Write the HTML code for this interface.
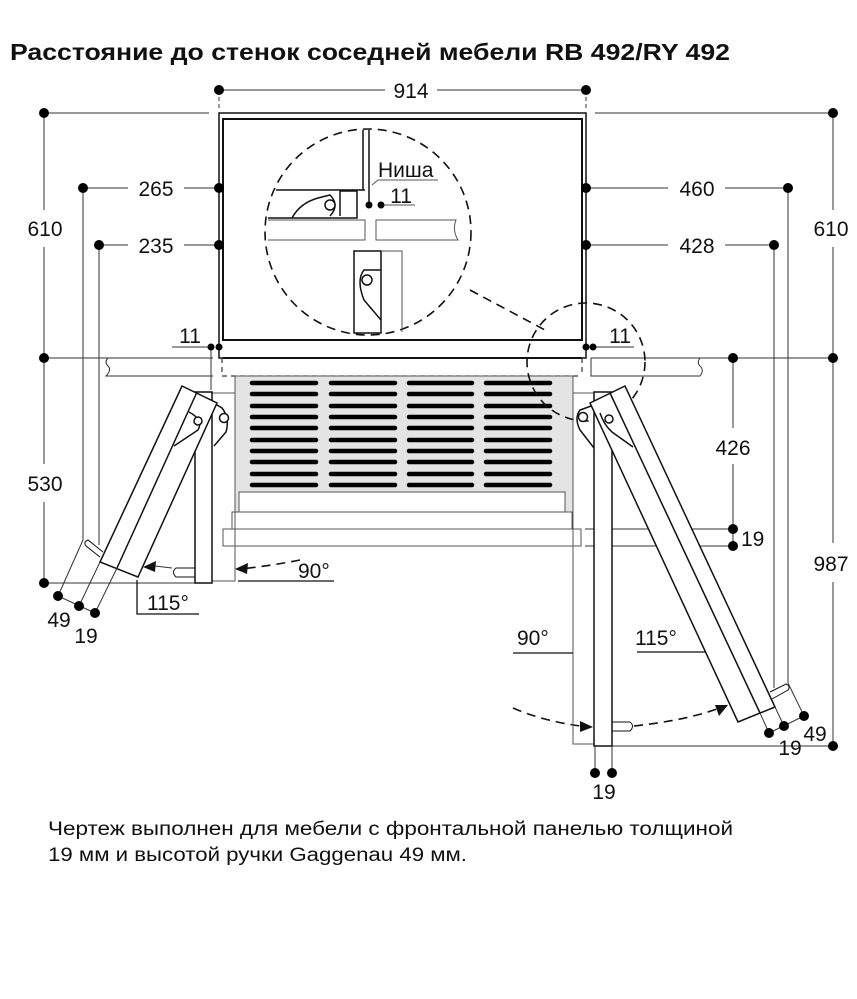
<!DOCTYPE html>
<html><head><meta charset="utf-8"><style>
body{margin:0;background:#fff;width:857px;height:999px;overflow:hidden}
svg{position:absolute;left:0;top:0}
text{font-family:"Liberation Sans",Arial,sans-serif;fill:#111}
</style></head><body>
<svg width="857" height="999" viewBox="0 0 857 999">
<text x="10" y="60" font-size="23" font-weight="bold" textLength="720" lengthAdjust="spacingAndGlyphs">Расстояние до стенок соседней мебели RB 492/RY 492</text>
<g stroke="#333" stroke-width="1" fill="none">
<line x1="219" y1="90" x2="385" y2="90"/><line x1="437" y1="90" x2="586" y2="90"/>
<line x1="219" y1="90" x2="219" y2="110" stroke-dasharray="4 3"/><line x1="586" y1="90" x2="586" y2="110" stroke-dasharray="4 3"/>
<line x1="44" y1="113" x2="209" y2="113"/><line x1="44" y1="113" x2="44" y2="210"/><line x1="44" y1="247" x2="44" y2="358"/>
<line x1="44" y1="358" x2="213" y2="358"/>
<line x1="44" y1="358" x2="44" y2="464"/><line x1="44" y1="502" x2="44" y2="583"/>
<line x1="44" y1="583" x2="195" y2="583"/>
<line x1="595" y1="113" x2="833" y2="113"/><line x1="833" y1="113" x2="833" y2="210"/><line x1="833" y1="247" x2="833" y2="543"/><line x1="833" y1="582" x2="833" y2="746"/>
<line x1="700" y1="358" x2="833" y2="358"/>
<line x1="612" y1="746" x2="833" y2="746"/>
<line x1="83" y1="188" x2="128" y2="188"/><line x1="184" y1="188" x2="219" y2="188"/>
<line x1="99" y1="245" x2="128" y2="245"/><line x1="184" y1="245" x2="219" y2="245"/>
<line x1="83" y1="188" x2="83" y2="540"/><line x1="99" y1="245" x2="99" y2="545"/>
<line x1="586" y1="188" x2="668" y2="188"/><line x1="725" y1="188" x2="788" y2="188"/>
<line x1="586" y1="245" x2="668" y2="245"/><line x1="725" y1="245" x2="774" y2="245"/>
<line x1="788" y1="188" x2="788" y2="683"/><line x1="774" y1="245" x2="774" y2="688"/>
<line x1="733" y1="358" x2="733" y2="428"/><line x1="733" y1="464" x2="733" y2="546"/>
<line x1="585" y1="529" x2="733" y2="529"/><line x1="585" y1="546" x2="733" y2="546"/>
<path d="M213 358 L108 358 Q104 362 108 366 Q112 370 106 376 L213 376"/>
<path d="M591 358 L700 358 Q696 363 701 367 Q704 371 700 376 L591 376 Z"/>
<line x1="172" y1="347" x2="211" y2="347"/><line x1="211" y1="347" x2="211" y2="390"/>
<line x1="593" y1="347" x2="634" y2="347"/>
</g>
<g stroke="#111" fill="none">
<rect x="219" y="113" width="367" height="245" stroke-width="1.5"/>
<rect x="223" y="119" width="359" height="221" stroke-width="2"/>
<line x1="223" y1="358" x2="582" y2="358" stroke-width="2"/>
</g>
<g stroke="#333" stroke-width="1.2" fill="none" stroke-dasharray="5 4">
<line x1="222" y1="358" x2="222" y2="376"/><line x1="582" y1="358" x2="582" y2="376"/>
<line x1="222" y1="376" x2="582" y2="376"/>
</g>
<rect x="235" y="376" width="338" height="136" fill="#e4e4e4" stroke="#555"/>
<rect x="239" y="492" width="326" height="20" fill="#fff" stroke="#555"/>
<rect x="232" y="512" width="340" height="17" fill="#fff" stroke="#555"/>
<rect x="223" y="529" width="358" height="17" fill="#fff" stroke="#555"/>
<g stroke="#000" stroke-width="4.5" stroke-linecap="round">
<path d="M252 383H316M331 383H395M409 383H472M486 383H550
M252 394H316M331 394H395M409 394H472M486 394H550
M252 406H316M331 406H395M409 406H472M486 406H550
M252 417H316M331 417H395M409 417H472M486 417H550
M252 428H316M331 428H395M409 428H472M486 428H550
M252 440H316M331 440H395M409 440H472M486 440H550
M252 451H316M331 451H395M409 451H472M486 451H550
M252 462H316M331 462H395M409 462H472M486 462H550
M252 474H316M331 474H395M409 474H472M486 474H550
M252 485H316M331 485H395M409 485H472M486 485H550"/>
</g>
<g stroke="#111" stroke-width="1.6" fill="none" stroke-dasharray="9 6">
<circle cx="368" cy="232" r="103"/>
<circle cx="586" cy="362" r="59"/>
<line x1="470" y1="290" x2="545" y2="330"/>
<path d="M513 708 Q545 722 588 727"/>
<path d="M634 726 Q690 720 725 706"/>
<path d="M300 560 Q270 566 240 569"/>
</g>
<g stroke="#111" stroke-width="1.5" fill="#fff">
<line x1="276" y1="190" x2="365" y2="190"/>
<line x1="363" y1="130" x2="363" y2="190"/><line x1="369" y1="130" x2="369" y2="207"/>
<path d="M268 218 L357 218 L357 191 L340 191 L340 216" fill="none"/>
<path d="M292 218 Q300 203 318 198 L330 195 Q340 205 330 216" fill="none"/>
<circle cx="330" cy="205" r="5"/>
<path d="M268 220 L365 220 L365 240 L268 240" fill="none" stroke="#555" stroke-width="1"/>
<path d="M376 220 L456 220 Q452 230 458 240 L376 240 Z" fill="none" stroke="#555" stroke-width="1"/>
<rect x="354" y="251" width="27" height="82" fill="none"/>
<path d="M381 251 L402 251 L402 332" fill="none" stroke="#555" stroke-width="1"/>
<path d="M381 270 L364 270 Q356 280 364 300 L381 320" fill="none"/>
<circle cx="367" cy="280" r="5"/>
<path d="M372 185 L378 180 L438 180" fill="none" stroke="#555" stroke-width="1"/>
<line x1="381" y1="205" x2="415" y2="205" stroke="#555" stroke-width="1"/>
</g>
<g stroke="#111" stroke-width="1.5" fill="#fff">
<rect x="212" y="393" width="23" height="188" fill="none" stroke="#555" stroke-width="1"/>
<rect x="195" y="392" width="17" height="191"/>
<path d="M195 568 L176 568 Q171 572 176 577 L195 577" fill="none" stroke-width="1"/>
<path d="M212 402 L222 408 Q230 418 226 432 L214 446" fill="none"/>
<circle cx="224" cy="418" r="4.5"/>
<polygon points="182,386 217,403 138,577 100,562"/>
<line x1="197" y1="392" x2="117" y2="568"/>
<path d="M189 412 Q204 420 198 430 L174 446" fill="none"/>
<circle cx="198" cy="421" r="4"/>
<path d="M103 552 L88 540 Q83 542 86 546 L100 557" fill="none" stroke-width="1"/>
</g>
<g stroke="#333" stroke-width="1" fill="none">
<line x1="58" y1="596" x2="83" y2="540"/><line x1="79" y1="606" x2="100" y2="562"/><line x1="95" y1="613" x2="117" y2="568"/>
<line x1="58" y1="596" x2="95" y2="613"/>
<path d="M137 580 V614 H199" stroke="#111" stroke-width="1.3"/>
<line x1="238" y1="581" x2="334" y2="581" stroke="#111" stroke-width="1.3"/>
<line x1="172" y1="568" x2="155" y2="566"/>
</g>
<g stroke="#111" stroke-width="1.5" fill="#fff">
<rect x="573" y="393" width="21" height="351" fill="none" stroke="#555" stroke-width="1"/>
<rect x="594" y="392" width="18" height="354"/>
<path d="M612 722 L630 722 Q635 726 630 731 L612 731" fill="none" stroke-width="1"/>
<path d="M594 405 L580 410 Q574 418 580 430 L594 448" fill="none"/>
<circle cx="583" cy="417" r="4.5"/>
<polygon points="590,403 625,386 775,707 738,722"/>
<line x1="610" y1="393" x2="760" y2="713"/>
<path d="M600 413 Q604 425 612 432 L633 447" fill="none"/>
<circle cx="609" cy="419" r="4"/>
<path d="M770 692 L786 684 Q791 686 788 690 L772 699" fill="none" stroke-width="1"/>
</g>
<g stroke="#333" stroke-width="1" fill="none">
<line x1="769" y1="733" x2="760" y2="713"/><line x1="784" y1="726" x2="775" y2="707"/><line x1="804" y1="716" x2="788" y2="683"/>
<line x1="769" y1="733" x2="804" y2="716"/>
<line x1="595" y1="746" x2="595" y2="773"/><line x1="612" y1="746" x2="612" y2="773"/>
<line x1="513" y1="653" x2="573" y2="653" stroke="#111" stroke-width="1.3"/>
<line x1="637" y1="652" x2="706" y2="652" stroke="#111" stroke-width="1.3"/>
</g>
<g fill="#111">
<polygon points="235,569 248,563 247,574"/>
<polygon points="143,567 156,561 155,572"/>
<polygon points="593,727 580,721 580,732"/>
<polygon points="728,705 715,705 719,716"/>
</g>
<g fill="#000">
<circle cx="219" cy="90" r="5"/><circle cx="586" cy="90" r="5"/>
<circle cx="44" cy="113" r="5"/><circle cx="44" cy="358" r="5"/><circle cx="44" cy="583" r="5"/>
<circle cx="833" cy="113" r="5"/><circle cx="833" cy="358" r="5"/><circle cx="833" cy="746" r="5"/>
<circle cx="83" cy="188" r="5"/><circle cx="219" cy="188" r="5"/><circle cx="99" cy="245" r="5"/><circle cx="219" cy="245" r="5"/>
<circle cx="586" cy="188" r="5"/><circle cx="788" cy="188" r="5"/><circle cx="586" cy="245" r="5"/><circle cx="774" cy="245" r="5"/>
<circle cx="733" cy="358" r="5"/><circle cx="733" cy="529" r="5"/><circle cx="733" cy="546" r="5"/>
<circle cx="211" cy="347" r="3.5"/><circle cx="219" cy="347" r="3.5"/>
<circle cx="586" cy="347" r="3.5"/><circle cx="593" cy="347" r="3.5"/>
<circle cx="369" cy="205" r="3.5"/><circle cx="381" cy="205" r="3.5"/>
<circle cx="58" cy="596" r="5"/><circle cx="79" cy="606" r="5"/><circle cx="95" cy="613" r="5"/>
<circle cx="769" cy="733" r="5"/><circle cx="784" cy="726" r="5"/><circle cx="804" cy="716" r="5"/>
<circle cx="595" cy="773" r="5"/><circle cx="612" cy="773" r="5"/>
</g>
<g font-size="21">
<text x="411" y="98" text-anchor="middle">914</text>
<text x="45" y="236" text-anchor="middle">610</text>
<text x="831" y="236" text-anchor="middle">610</text>
<text x="156" y="196" text-anchor="middle">265</text>
<text x="156" y="253" text-anchor="middle">235</text>
<text x="697" y="196" text-anchor="middle">460</text>
<text x="697" y="253" text-anchor="middle">428</text>
<text x="45" y="491" text-anchor="middle">530</text>
<text x="733" y="455" text-anchor="middle">426</text>
<text x="831" y="571" text-anchor="middle">987</text>
<text x="741" y="546">19</text>
<text x="190" y="343" text-anchor="middle">11</text>
<text x="620" y="343" text-anchor="middle">11</text>
<text x="401" y="203" text-anchor="middle">11</text>
<text x="378" y="177">Ниша</text>
<text x="59" y="627" text-anchor="middle">49</text>
<text x="86" y="643" text-anchor="middle">19</text>
<text x="815" y="741" text-anchor="middle">49</text>
<text x="790" y="755" text-anchor="middle">19</text>
<text x="604" y="799" text-anchor="middle">19</text>
<text x="298" y="578">90°</text>
<text x="147" y="610">115°</text>
<text x="517" y="645">90°</text>
<text x="635" y="645">115°</text>
</g>
<g font-size="19">
<text x="48" y="835" textLength="685" lengthAdjust="spacingAndGlyphs">Чертеж выполнен для мебели с фронтальной панелью толщиной</text>
<text x="48" y="861" textLength="419" lengthAdjust="spacingAndGlyphs">19 мм и высотой ручки Gaggenau 49 мм.</text>
</g>
</svg>
</body></html>
